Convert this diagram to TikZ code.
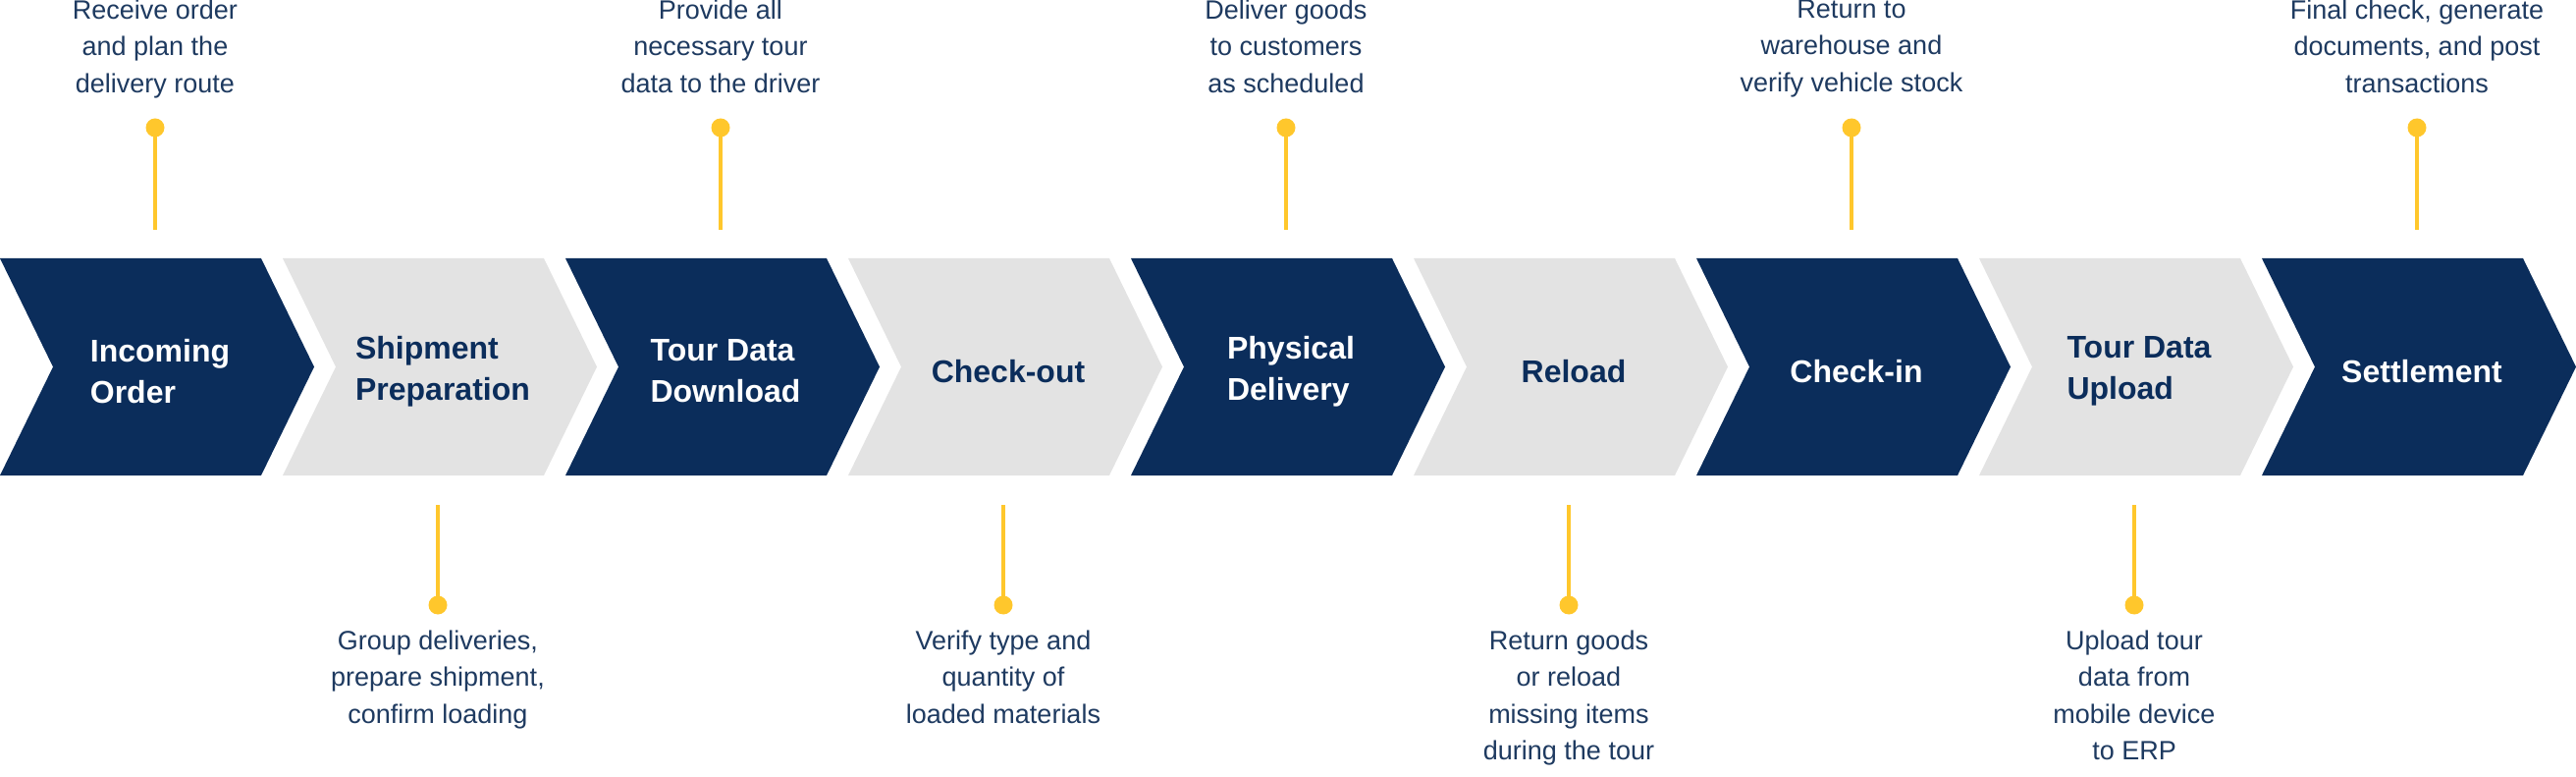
\documentclass[tikz,border=0pt]{standalone}
\usepackage{fontspec}
\setmainfont{Liberation Sans}
\definecolor{navy}{HTML}{0B2D5B}
\definecolor{lgrey}{HTML}{E3E3E3}
\definecolor{pin}{HTML}{FFC72C}
\definecolor{txt}{HTML}{1E3A60}
\tikzset{
  desc/.style={align=center,text=txt,font=\fontsize{27}{37.5}\selectfont},
  ttl/.style={align=left,font=\fontsize{32}{42}\selectfont\bfseries},
  pinline/.style={draw=pin,line width=4pt},
  pindot/.style={circle,fill=pin,inner sep=0pt,minimum size=19pt},
}
\begin{document}
\begin{tikzpicture}[x=1pt,y=-1pt]
\useasboundingbox (0,0) rectangle (2624,791);
\foreach \i/\t/\dk in {0/{Incoming\\Order}/1,1/{Shipment\\Preparation}/0,2/{Tour Data\\Download}/1,3/{Check-out}/0,4/{Physical\\Delivery}/1,5/{Reload}/0,6/{Check-in}/1,7/{Tour Data\\Upload}/0,8/{Settlement}/1}{
  \pgfmathsetmacro{\xo}{288*\i}
  \ifnum\dk=1 \def\fc{navy}\def\tc{white}\else\def\fc{lgrey}\def\tc{navy}\fi
  \fill[\fc] (\xo,263) -- (\xo+266,263) -- (\xo+320,373.5) -- (\xo+266,484) -- (\xo,484) -- (\xo+54,373.5) -- cycle;
  \node[ttl,text=\tc] (c\i) at (\xo+163,378) {\t};
}
\foreach \i/\t in {0/{Receive order\\and plan the\\delivery route},2/{Provide all\\necessary tour\\data to the driver},4/{Deliver goods\\to customers\\as scheduled},6/{Return to\\warehouse and\\verify vehicle stock},8/{Final check, generate\\documents, and post\\transactions}}{
  \pgfmathsetmacro{\xo}{288*\i+158}
  \node[desc,anchor=north] (t\i) at (\xo,-4) {\t};
  \node[pindot] (d\i) at (\xo,130) {};
  \coordinate (e\i) at (\xo,234);
  \draw[pinline] (d\i.center) -- (e\i);
}
\foreach \i/\t in {1/{Group deliveries,\\prepare shipment,\\confirm loading},3/{Verify type and\\quantity of\\loaded materials},5/{Return goods\\or reload\\missing items\\during the tour},7/{Upload tour\\data from\\mobile device\\to ERP}}{
  \pgfmathsetmacro{\xo}{288*\i+158}
  \node[desc,anchor=north] (t\i) at (\xo,638) {\t};
  \node[pindot] (d\i) at (\xo,616) {};
  \coordinate (e\i) at (\xo,514);
  \draw[pinline] (e\i) -- (d\i.center);
}
\end{tikzpicture}
\end{document}
